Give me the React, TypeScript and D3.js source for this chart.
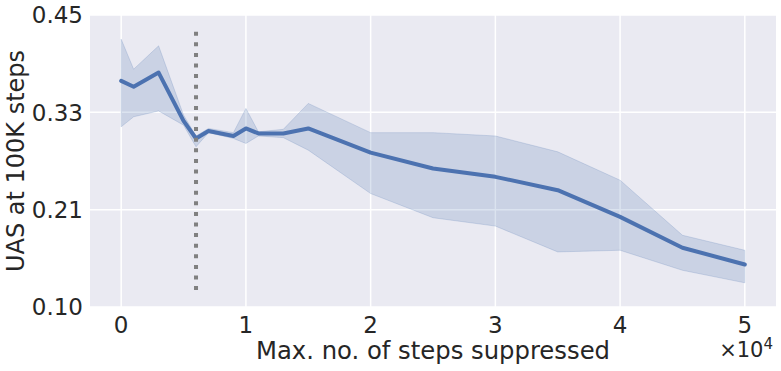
import React from 'react'
import * as d3 from 'd3'

// readings
const steps = [0, 1000, 3000, 5000, 6000, 7000, 9000, 10000, 11000, 13000, 15000, 20000, 25000, 30000, 35000, 40000, 45000, 50000]
const uasMean = [0.371, 0.364, 0.381, 0.323, 0.302, 0.311, 0.305, 0.314, 0.308, 0.308, 0.314, 0.285, 0.266, 0.256, 0.240, 0.208, 0.171, 0.151]
const uasUpper = [0.421, 0.385, 0.413, 0.330, 0.305, 0.314, 0.309, 0.338, 0.310, 0.313, 0.344, 0.309, 0.309, 0.305, 0.286, 0.252, 0.186, 0.168]
const uasLower = [0.316, 0.328, 0.335, 0.318, 0.292, 0.309, 0.302, 0.296, 0.305, 0.303, 0.288, 0.236, 0.207, 0.197, 0.166, 0.168, 0.144, 0.129]

const xTicks = [0, 10000, 20000, 30000, 40000, 50000]
const xTickLabels = ['0', '1', '2', '3', '4', '5']
const yTicks = [0.10, 0.10 + 0.35 / 3, 0.10 + 0.70 / 3, 0.45]
const yTickLabels = ['0.10', '0.21', '0.33', '0.45']

const cutoffStep = 6000
const cutoffRange = [0.114, 0.43]

const W = 781
const H = 371
const margin = { left: 90, right: 5, top: 15, bottom: 64 }
const blue = '#4c72b0'
const font = '"DejaVu Sans", sans-serif'

const App = () => {
    const x = d3.scaleLinear().domain([-2500, 52500]).range([margin.left, W - margin.right])
    const y = d3.scaleLinear().domain([0.10, 0.45]).range([H - margin.bottom, margin.top])

    const rows = steps.map((s, i) => ({ s, m: uasMean[i], lo: uasLower[i], hi: uasUpper[i] }))

    const band = d3.area<any>()
        .x(d => x(d.s))
        .y0(d => y(d.lo))
        .y1(d => y(d.hi))
    const line = d3.line<any>()
        .x(d => x(d.s))
        .y(d => y(d.m))

    const plotBottom = H - margin.bottom
    const plotRight = W - margin.right

    return (
        <svg width={W} height={H} style={{ position: 'absolute', left: 0, top: 0, background: '#fff' }}>
            <rect x={margin.left} y={margin.top} width={plotRight - margin.left} height={plotBottom - margin.top} fill="#eaeaf2" />

            {xTicks.map(t => (
                <line key={'gx' + t} x1={x(t)} x2={x(t)} y1={margin.top} y2={plotBottom} stroke="#fff" strokeWidth={1.5} />
            ))}
            {yTicks.map((t, i) => (
                <line key={'gy' + i} x1={margin.left} x2={plotRight} y1={y(t)} y2={y(t)} stroke="#fff" strokeWidth={1.5} />
            ))}

            <path d={band(rows) || ''} fill={blue} fillOpacity={0.2} stroke={blue} strokeOpacity={0.2} strokeWidth={1} />
            <path d={line(rows) || ''} fill="none" stroke={blue} strokeWidth={4} strokeLinejoin="round" strokeLinecap="round" />

            <line x1={x(cutoffStep)} x2={x(cutoffStep)} y1={y(cutoffRange[1])} y2={y(cutoffRange[0])}
                stroke="#808080" strokeWidth={4} strokeDasharray="4 6.6" />

            <g fontFamily={font} fill="#262626">
                {xTicks.map((t, i) => (
                    <text key={'xt' + t} x={x(t)} y={333} fontSize={23} textAnchor="middle">{xTickLabels[i]}</text>
                ))}
                {yTicks.map((t, i) => (
                    <text key={'yt' + i} x={83} y={y(t) + 8.3} fontSize={23} textAnchor="end">{yTickLabels[i]}</text>
                ))}
                <text x={433} y={359} fontSize={24.3} textAnchor="middle">Max. no. of steps suppressed</text>
                <text x={773} y={357} fontSize={21} textAnchor="end">
                    ×10<tspan fontSize={15} dy={-8}>4</tspan>
                </text>
                <text transform={`translate(24, ${(margin.top + plotBottom) / 2}) rotate(-90)`} fontSize={24} textAnchor="middle">UAS at 100K steps</text>
            </g>
        </svg>
    )
}

export default App
